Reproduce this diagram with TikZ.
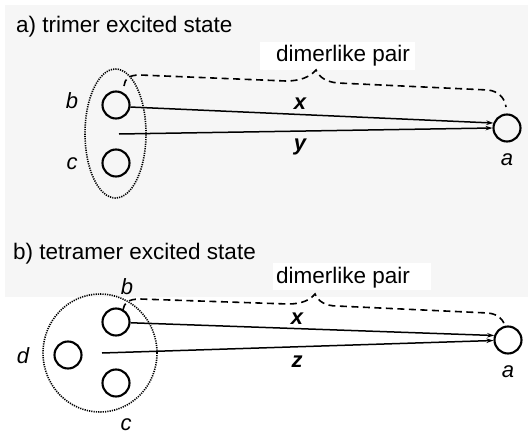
\documentclass[tikz,border=0pt]{standalone}
\usepackage{fontspec}
\setmainfont{Liberation Sans}
\usetikzlibrary{arrows.meta,shapes.geometric}
\definecolor{bggray}{RGB}{246,246,246}
\begin{document}
\begin{tikzpicture}[x=1pt,y=-1pt,
  mol/.style={draw,circle,minimum size=27,inner sep=0,line width=2.1},
  lab/.style={inner sep=0,font=\fontsize{22}{26}\selectfont\itshape},
  blab/.style={inner sep=0,font=\fontsize{22}{26}\selectfont\bfseries\itshape},
  title/.style={inner sep=0,anchor=base west,font=\fontsize{22.5}{27}\selectfont},
  conn/.style={line width=1.5,-{Stealth[length=7,width=4.5]}},
  grp/.style={line width=1.6,dash pattern=on 1.2 off 1.1},
  brace/.style={line width=1.6,dash pattern=on 7 off 4.5}]
\useasboundingbox (0,0) rectangle (528,434);
\fill[white] (0,0) rectangle (528,434);
\fill[bggray] (5,5) rectangle (528,297);
% ---------- panel a ----------
\node[title] (ta) at (16,32) {a) trimer excited state};
\fill[white] (260,42) rectangle (415,70);
\node[title] (dpa) at (276,61) {dimerlike pair};
\node[mol] (ab) at (116,105) {};
\node[mol] (ac) at (116,163) {};
\node[mol] (aa) at (507,128) {};
\node[draw,grp,ellipse,minimum width=61,minimum height=129,inner sep=0] (ag) at (115.5,133.5) {};
\node[lab] (lab-ab) at (72,101) {b};
\node[lab] (lab-ac) at (72,164) {c};
\node[lab] (lab-aa) at (507,160) {a};
\coordinate (ays) at (119,134);
\draw[conn] (ab.-8) -- (aa.160);
\draw[conn] (ays) -- (aa.180);
\node[blab] (lx-a) at (300,104) {x};
\node[blab] (ly-a) at (300,147) {y};
\draw[brace] (124,86) .. controls (125,79) and (128,75) .. (140,75) -- (286,81)
  .. controls (300,81) and (310,77) .. (316,70)
  .. controls (319,77) and (326,82) .. (338,83) -- (488,90)
  .. controls (498,91) and (505,98) .. (506,107);
% ---------- panel b ----------
\node[title] (tb) at (13,259) {b) tetramer excited state};
\fill[white] (273,263) rectangle (431,290);
\node[title] (dpb) at (276,283) {dimerlike pair};
\node[draw,grp,ellipse,minimum width=114,minimum height=118,inner sep=0] (bg) at (100,353) {};
\node[mol] (bb) at (116,322) {};
\node[mol] (bd) at (68,355) {};
\node[mol] (bc) at (116,383) {};
\node[mol] (ba) at (508,340) {};
\node[lab] (lab-bb) at (127,287) {b};
\node[lab] (lab-bc) at (126,425) {c};
\node[lab] (lab-bd) at (23,356) {d};
\node[lab] (lab-ba) at (508,372) {a};
\coordinate (bzs) at (102,353);
\draw[conn] (bb.-3) -- (ba.162);
\draw[conn] (bzs) -- (ba.182);
\node[blab] (lx-b) at (297,319) {x};
\node[blab] (lz-b) at (297,362) {z};
\draw[brace] (123,310) .. controls (124,303) and (128,299) .. (140,299) -- (288,304)
  .. controls (302,304) and (310,300) .. (315,294)
  .. controls (318,301) and (325,306) .. (337,306) -- (488,313)
  .. controls (498,314) and (504,320) .. (505,327);
\end{tikzpicture}
\end{document}
